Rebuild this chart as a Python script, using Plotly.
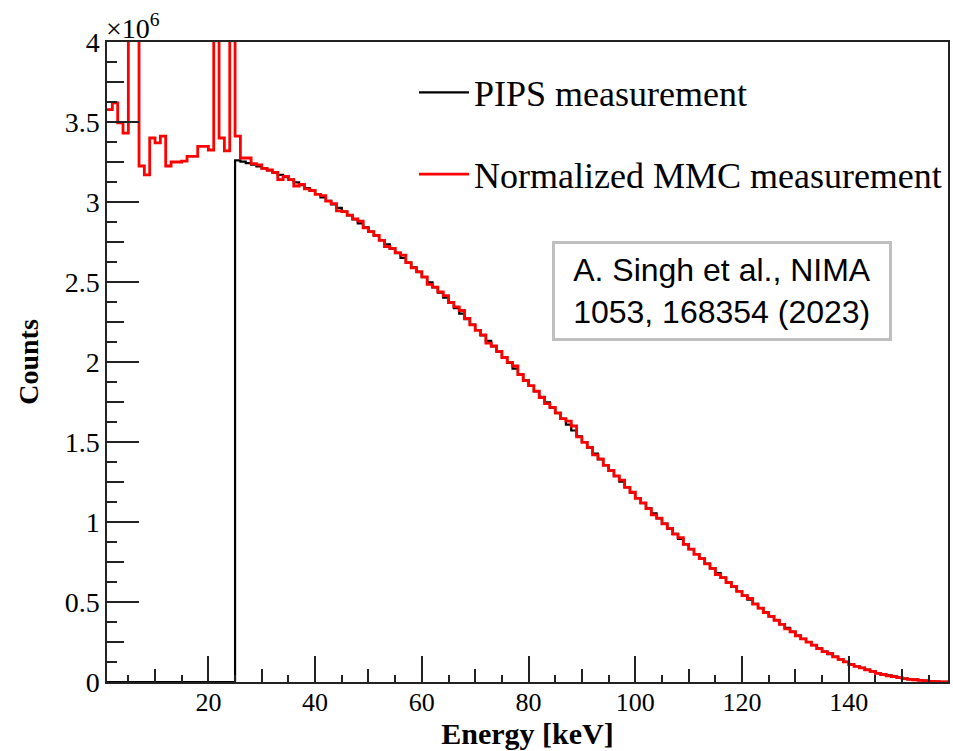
import plotly.graph_objects as go

# ---- data (counts in units of 1e6), 1 keV bins, low edges 1..158 ----
bin_low = list(range(1, 159))
bin_high_last = 159

pips_counts = [0.0] * 24 + [
    3.260, 3.252, 3.243, 3.233, 3.222,
    3.210, 3.197, 3.183, 3.169, 3.155,
    3.140, 3.123, 3.105, 3.087, 3.069,
    3.050, 3.029, 3.007, 2.985, 2.963,
    2.940, 2.916, 2.891, 2.866, 2.841,
    2.815, 2.789, 2.762, 2.735, 2.708,
    2.680, 2.651, 2.621, 2.591, 2.561,
    2.530, 2.498, 2.466, 2.434, 2.402,
    2.370, 2.336, 2.302, 2.268, 2.234,
    2.200, 2.166, 2.132, 2.098, 2.064,
    2.030, 1.994, 1.958, 1.922, 1.886,
    1.850, 1.816, 1.782, 1.748, 1.714,
    1.680, 1.644, 1.608, 1.572, 1.536,
    1.500, 1.464, 1.428, 1.392, 1.356,
    1.320, 1.286, 1.252, 1.218, 1.184,
    1.150, 1.118, 1.086, 1.054, 1.022,
    0.990, 0.958, 0.926, 0.894, 0.862,
    0.830, 0.800, 0.770, 0.740, 0.710,
    0.680, 0.652, 0.624, 0.596, 0.568,
    0.540, 0.514, 0.488, 0.462, 0.436,
    0.410, 0.386, 0.362, 0.338, 0.314,
    0.290, 0.270, 0.250, 0.230, 0.210,
    0.190, 0.174, 0.158, 0.142, 0.126,
    0.110, 0.099, 0.088, 0.077, 0.066,
    0.055, 0.048, 0.042, 0.035, 0.028,
    0.022, 0.018, 0.015, 0.011, 0.008,
    0.005, 0.003, 0.001, 0.0003,
]

mmc_counts = [
    3.577, 3.619, 3.494, 3.431, 6.200, 5.400, 3.225, 3.169, 3.400, 3.369,
    3.412, 3.225, 3.250, 3.250, 3.255, 3.285, 3.285, 3.348, 3.348, 3.325,
    5.000, 3.400, 3.319, 4.600, 3.412, 3.275, 3.275, 3.240, 3.232, 3.210,
    3.200, 3.185, 3.140, 3.160, 3.140, 3.100, 3.110, 3.082, 3.072, 3.048,
    3.040, 3.005, 2.990, 2.945, 2.940, 2.918, 2.895, 2.880, 2.838, 2.815,
    2.792, 2.760, 2.722, 2.710, 2.684, 2.668, 2.621, 2.588, 2.565, 2.532,
    2.485, 2.468, 2.438, 2.415, 2.372, 2.345, 2.322, 2.272, 2.232, 2.198,
    2.170, 2.118, 2.100, 2.066, 2.028, 1.998, 1.975, 1.922, 1.884, 1.852,
    1.818, 1.778, 1.740, 1.716, 1.682, 1.646, 1.630, 1.600, 1.532, 1.498,
    1.466, 1.420, 1.394, 1.354, 1.322, 1.288, 1.262, 1.216, 1.186, 1.148,
    1.120, 1.084, 1.044, 1.024, 0.988, 0.960, 0.924, 0.902, 0.860, 0.830,
    0.798, 0.772, 0.738, 0.710, 0.672, 0.652, 0.622, 0.598, 0.566, 0.540,
    0.522, 0.487, 0.462, 0.434, 0.410, 0.386, 0.360, 0.332, 0.314, 0.289,
    0.270, 0.249, 0.230, 0.209, 0.190, 0.178, 0.157, 0.141, 0.126, 0.109,
    0.098, 0.088, 0.076, 0.066, 0.054, 0.047, 0.039, 0.034, 0.027, 0.021,
    0.017, 0.014, 0.010, 0.007, 0.004, 0.002, 0.001, 0.0002,
]

x_ticks = [20, 40, 60, 80, 100, 120, 140]
y_ticks = [0, 0.5, 1, 1.5, 2, 2.5, 3, 3.5, 4]
y_tick_text = ["0", "0.5", "1", "1.5", "2", "2.5", "3", "3.5", "4"]

SERIF = "Liberation Serif, Times New Roman, serif"
SANS = "Liberation Sans, Arial, sans-serif"


def steps(vals):
    return bin_low + [bin_high_last], vals + [vals[-1]]


fig = go.Figure()
xs, ys = steps(pips_counts)
fig.add_trace(go.Scatter(x=xs, y=ys, mode="lines", line=dict(color="black", width=2.2, shape="hv"),
                         name="PIPS measurement", legendgroup="a"))
xs, ys = steps(mmc_counts)
fig.add_trace(go.Scatter(x=xs, y=ys, mode="lines", line=dict(color="#ff0000", width=2.8, shape="hv"),
                         name="Normalized MMC measurement", legendgroup="b"))
# helper (empty) trace to activate the secondary tick axes
fig.add_trace(go.Scatter(x=[None], y=[None], xaxis="x2", yaxis="y2", showlegend=False, hoverinfo="skip"))

XR = [1, 158.6]
YR = [0, 4]
fig.update_layout(
    width=953, height=751,
    margin=dict(l=107, r=3, t=42, b=69),
    paper_bgcolor="white", plot_bgcolor="white",
    font=dict(family=SERIF, color="black"),
    showlegend=True,
    legend=dict(x=0.365, y=0.968, xanchor="left", yanchor="top", font=dict(family=SERIF, size=36),
                bgcolor="rgba(0,0,0,0)", tracegroupgap=32, itemwidth=50),
    xaxis=dict(range=XR, showgrid=False, zeroline=False, showline=True, linecolor="#222", linewidth=1.5,
               mirror=True, ticks="inside", ticklen=26, tickwidth=1.5, tickcolor="#222",
               tickvals=x_ticks, tickfont=dict(family=SERIF, size=26), ticklabelstandoff=-4,
               minor=dict(dtick=5, tick0=0, ticks="inside", ticklen=7, tickwidth=1.5, tickcolor="#222", showgrid=False),
               title=dict(text="<b>Energy [keV]</b>", font=dict(family=SERIF, size=30), standoff=6)),
    yaxis=dict(range=YR, showgrid=False, zeroline=False, showline=True, linecolor="#222", linewidth=1.5,
               mirror=True, ticks="inside", ticklen=32, tickwidth=1.5, tickcolor="#222",
               tickvals=y_ticks, ticktext=y_tick_text, tickfont=dict(family=SERIF, size=28),
               ticklabelstandoff=0,
               minor=dict(dtick=0.125, tick0=0, ticks="inside", ticklen=10, tickwidth=1.5, tickcolor="#222", showgrid=False),
               title=dict(text="<b>Counts</b>", font=dict(family=SERIF, size=28), standoff=18)),
    xaxis2=dict(range=XR, overlaying="x", anchor="y", side="bottom", showgrid=False, zeroline=False,
                showline=False, ticks="inside", ticklen=13, tickwidth=1.5, tickcolor="#222",
                dtick=10, tick0=0, showticklabels=False),
    yaxis2=dict(range=YR, overlaying="y", anchor="x", side="left", showgrid=False, zeroline=False,
                showline=False, ticks="inside", ticklen=17, tickwidth=1.5, tickcolor="#222",
                dtick=0.25, tick0=0, showticklabels=False),
)

fig.add_annotation(xref="paper", yref="paper", x=0, y=1.0, xanchor="left", yanchor="bottom",
                   text="×10<sup>6</sup>", showarrow=False, font=dict(family=SERIF, size=28), yshift=-4, xshift=-3)
fig.add_annotation(xref="paper", yref="paper", x=0.7307, y=0.6117, xanchor="center", yanchor="middle",
                   text="A. Singh et al., NIMA<br>1053, 168354 (2023)", showarrow=False,
                   font=dict(family=SANS, size=32, color="black"), align="center",
                   bgcolor="white", bordercolor="#bfbfbf", borderwidth=3, borderpad=5, width=324, height=84)

fig.write_html("out.html", config={"displayModeBar": False},
               post_script="document.body.style.margin='0';document.body.style.overflow='hidden';")
